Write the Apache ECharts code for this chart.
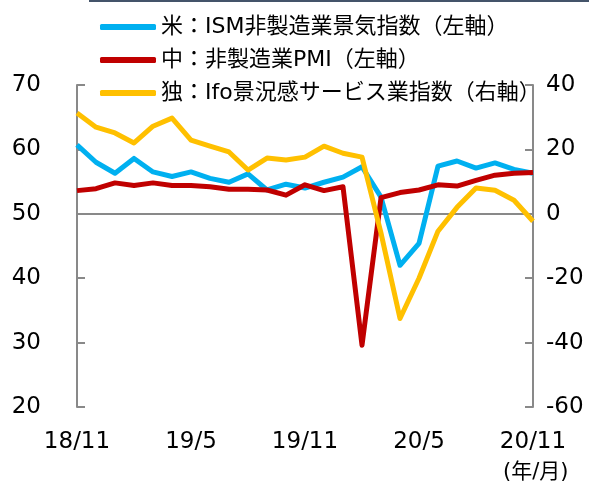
<!DOCTYPE html>
<html>
<head>
<meta charset="utf-8">
<script src="https://cdn.jsdelivr.net/npm/echarts@6/dist/echarts.min.js"></script>
<style>
  html, body { margin: 0; padding: 0; background: #fff; }
  #chart { width: 614px; height: 488px; }
</style>
</head>
<body>
<div id="chart"></div>
<script>
// 月次 18/11 - 20/11
const months = [
    '18/11', '18/12', '19/1', '19/2', '19/3', '19/4', '19/5', '19/6', '19/7', '19/8', '19/9', '19/10',
    '19/11', '19/12', '20/1', '20/2', '20/3', '20/4', '20/5', '20/6', '20/7', '20/8', '20/9', '20/10', '20/11'
];
const usIsm = [60.7, 58.0, 56.3, 58.6, 56.5, 55.8, 56.5, 55.5, 54.9, 56.2, 53.7, 54.6,
    54.0, 54.9, 55.7, 57.3, 52.6, 42.0, 45.4, 57.4, 58.2, 57.1, 57.9, 56.9, 56.3];
const chinaPmi = [53.6, 53.9, 54.8, 54.4, 54.8, 54.4, 54.4, 54.2, 53.8, 53.8, 53.7, 52.9,
    54.5, 53.6, 54.2, 29.6, 52.5, 53.3, 53.7, 54.5, 54.3, 55.2, 56.0, 56.3, 56.4];
const deIfo = [31.3, 26.9, 25.1, 22.0, 27.2, 29.7, 22.9, 21.0, 19.2, 13.6, 17.3, 16.7,
    17.6, 21.0, 18.8, 17.6, -6.0, -32.5, -20.0, -5.4, 2.0, 8.0, 7.3, 4.2, -2.3];
const names = ['米：ISM非製造業景気指数（左軸）', '中：非製造業PMI（左軸）', '独：Ifo景況感サービス業指数（右軸）'];

const fontFam = '"DejaVu Sans", "Noto Sans CJK JP", sans-serif';
const axisGray = '#898989';

let chart = echarts.init(document.getElementById('chart'));

let option = {
    animation: false,
    textStyle: { fontFamily: fontFam, color: '#000' },
    grid: { left: 77, right: 81, top: 85, bottom: 81 },
    legend: {
        orient: 'vertical',
        left: 95,
        top: 11,
        itemWidth: 56,
        itemHeight: 6,
        itemGap: 11,
        icon: 'roundRect',
        data: names,
        textStyle: { fontSize: 22, color: '#000', fontFamily: fontFam }
    },
    graphic: [
        {
            type: 'rect',
            shape: { x: 89, y: 0, width: 500, height: 2 },
            style: { fill: '#44546A' }
        },
        {
            type: 'text',
            left: 503,
            top: 462,
            style: { text: '(年/月)', fontSize: 21, fill: '#000', fontFamily: fontFam }
        }
    ],
    xAxis: [{
        type: 'category',
        data: months,
        boundaryGap: false,
        axisLine: { show: false },
        axisTick: { show: false },
        axisLabel: {
            interval: 5,
            fontSize: 23,
            color: '#000',
            margin: 24
        },
        splitLine: { show: false }
    }, {
        type: 'category',
        data: months,
        boundaryGap: false,
        axisLine: { show: true, onZero: true, onZeroAxisIndex: 1, lineStyle: { color: axisGray, width: 2 } },
        axisTick: { show: false },
        axisLabel: { show: false },
        splitLine: { show: false }
    }],
    yAxis: [{
        type: 'value',
        min: 20,
        max: 70,
        interval: 10,
        axisLine: { show: true, lineStyle: { color: axisGray, width: 2 } },
        axisTick: { show: true, inside: true, length: 8, lineStyle: { color: axisGray, width: 2 } },
        axisLabel: { fontSize: 23, color: '#000', margin: 36 },
        splitLine: { show: false }
    }, {
        type: 'value',
        min: -60,
        max: 40,
        interval: 20,
        axisLine: { show: true, lineStyle: { color: axisGray, width: 2 } },
        axisTick: { show: true, inside: true, length: 8, lineStyle: { color: axisGray, width: 2 } },
        axisLabel: { fontSize: 23, color: '#000', margin: 13 },
        splitLine: { show: false }
    }],
    series: [{
        name: names[0],
        type: 'line',
        data: usIsm,
        yAxisIndex: 0,
        symbol: 'none',
        lineStyle: { color: '#00B0F0', width: 5, join: 'round' },
        itemStyle: { color: '#00B0F0' },
        z: 3
    }, {
        name: names[1],
        type: 'line',
        data: chinaPmi,
        yAxisIndex: 0,
        symbol: 'none',
        lineStyle: { color: '#C00000', width: 5, join: 'round' },
        itemStyle: { color: '#C00000' },
        z: 4
    }, {
        name: names[2],
        type: 'line',
        data: deIfo,
        yAxisIndex: 1,
        symbol: 'none',
        lineStyle: { color: '#FFC000', width: 5, join: 'round' },
        itemStyle: { color: '#FFC000' },
        z: 5
    }]
};

chart.setOption(option);
</script>
</body>
</html>
